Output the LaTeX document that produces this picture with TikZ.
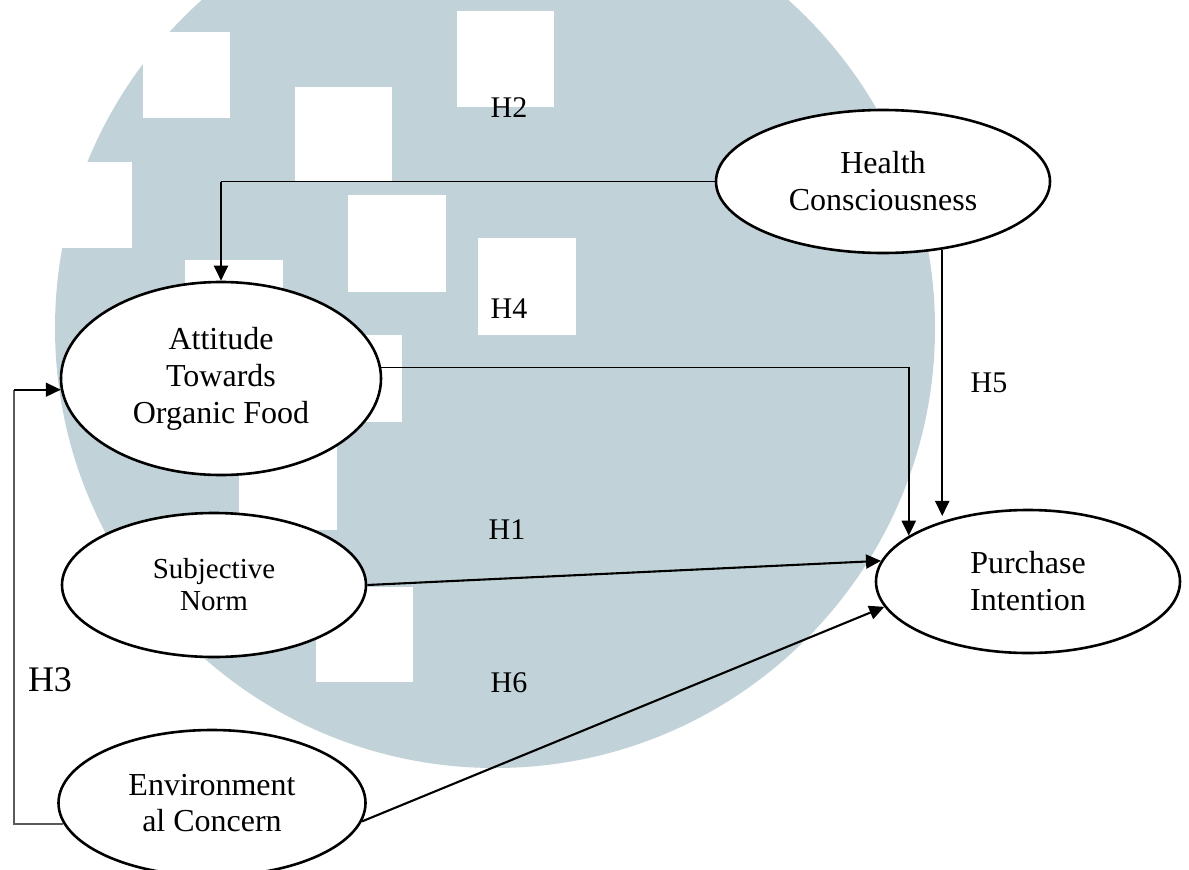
\documentclass[tikz,border=0pt]{standalone}
\usepackage{fontspec}
\setmainfont{Liberation Serif}
\usetikzlibrary{shapes.geometric,arrows.meta}
\definecolor{wm}{RGB}{193,211,217}
\definecolor{hthree}{RGB}{90,90,90}
\begin{document}
\begin{tikzpicture}[x=1pt,y=-1pt,
  latent/.style={ellipse, draw=black, line width=2.6pt, fill=white, inner sep=0pt, align=center, font=\fontsize{32}{37}\selectfont},
  hlabel/.style={inner sep=0pt, font=\fontsize{30}{34}\selectfont},
  arr/.style={line width=2.1pt, -{Triangle[length=15pt,width=14pt]}},
  thinline/.style={line width=1.2pt},
  h3line/.style={line width=1.4pt, draw=hthree}]
\useasboundingbox (0,0) rectangle (1189,870);
\fill[white] (0,0) rectangle (1189,870);
% watermark
\begin{scope}
\clip (0,0) rectangle (1189,870);
\fill[wm] (495,328) circle[radius=440pt];
\fill[white] (143,32) rectangle (230,118);
\fill[white] (35,162) rectangle (132,248);
\fill[white] (295,87) rectangle (392,182);
\fill[white] (348,195) rectangle (446,292);
\fill[white] (457,11) rectangle (554,107);
\fill[white] (478,238) rectangle (576,335);
\fill[white] (185,260) rectangle (283,357);
\fill[white] (305,335) rectangle (402,422);
\fill[white] (239,433) rectangle (337,530);
\fill[white] (316,587) rectangle (413,682);
\end{scope}
% nodes
\node[latent, minimum width=334pt, minimum height=143pt] (hc) at (883,181.5) {Health\\Consciousness};
\node[latent, minimum width=320pt, minimum height=193pt] (att) at (221,378.5) {Attitude\\Towards\\Organic Food};
\node[latent, minimum width=304pt, minimum height=144pt, font=\fontsize{29}{32}\selectfont] (sn) at (214,585) {Subjective\\Norm};
\node[latent, minimum width=307pt, minimum height=146pt, font=\fontsize{32}{36}\selectfont] (env) at (212,803) {Environment\\al Concern};
\node[latent, minimum width=304pt, minimum height=143pt] (pi) at (1028,581.5) {Purchase\\Intention};
% labels
\node[hlabel] (h2) at (509,108) {H2};
\node[hlabel] (h4) at (509,309) {H4};
\node[hlabel] (h5) at (989,383) {H5};
\node[hlabel] (h1) at (507,530) {H1};
\node[hlabel] (h6) at (509,683) {H6};
\node[hlabel, font=\fontsize{36}{40}\selectfont] (h3) at (50,680) {H3};
\coordinate (h3x) at (14,0);
% connectors
\draw[thinline] (hc.west) -- (hc.west -| att.north);
\draw[arr] (hc.west -| att.north) -- (att.north);
\draw[thinline] (att.4) -- (att.4 -| pi.159);
\draw[arr] (att.4 -| pi.159) -- (pi.159);
\draw[arr, shorten >=6pt] (hc.-49) -- (hc.-49 |- pi.146);
\draw[arr] (sn.east) -- (pi.172);
\draw[arr] (env.-7) -- (pi.190);
\draw[h3line] (env.188) -- (env.188 -| h3x) -- (h3x |- att.184);
\draw[arr, line width=1.7pt] (h3x |- att.184) -- (att.184);
\end{tikzpicture}
\end{document}
